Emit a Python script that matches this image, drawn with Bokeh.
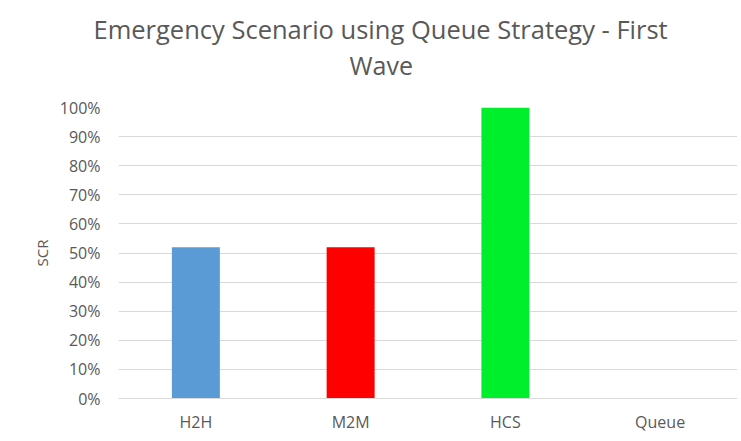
from bokeh.plotting import figure
from bokeh.models import (Title, NumeralTickFormatter, FixedTicker, LinearAxis,
                          Range1d)
from bokeh.embed import file_html
from bokeh.resources import INLINE

categories = ["H2H", "M2M", "HCS", "Queue"]
scr = [0.52, 0.52, 1.00, 0.0]
bar_colors = ["#5B9BD5", "#FF0000", "#00EF2D", "#A5A5A5"]
y_ticks = [0.0, 0.1, 0.2, 0.3, 0.4, 0.5, 0.6, 0.7, 0.8, 0.9, 1.0]
title_lines = ["Emergency Scenario using Queue Strategy - First", "Wave"]
y_label = "SCR"

FONT = "Open Sans"
GRAY = "#595959"

positions = list(range(len(categories)))

p = figure(x_range=Range1d(-0.5, len(categories) - 0.5), y_range=(0, 1),
           width=737, height=435,
           output_backend="svg", toolbar_location=None,
           min_border_left=118, min_border_right=0,
           min_border_top=107, min_border_bottom=33,
           outline_line_color=None)
p.title.visible = False

p.vbar(x=positions, top=scr, width=0.31, color=bar_colors, line_color=None)

p.xgrid.grid_line_color = None
p.ygrid.grid_line_color = "#D9D9D9"
p.ygrid.grid_line_width = 1

p.yaxis.ticker = FixedTicker(ticks=y_ticks)
p.yaxis.formatter = NumeralTickFormatter(format="0%")
p.yaxis.axis_line_color = None
p.yaxis.major_tick_line_color = None
p.yaxis.minor_tick_line_color = None
p.yaxis.major_tick_out = 0
p.yaxis.major_label_standoff = 18
p.yaxis.axis_label = y_label
p.yaxis.axis_label_standoff = 5
p.yaxis.axis_label_text_font = FONT
p.yaxis.axis_label_text_font_size = "15px"
p.yaxis.axis_label_text_font_style = "normal"
p.yaxis.axis_label_text_color = GRAY

p.xaxis.ticker = FixedTicker(ticks=positions)
p.xaxis.major_label_overrides = {i: c for i, c in zip(positions, categories)}
p.xaxis.axis_line_color = "#D9D9D9"
p.xaxis.major_tick_line_color = None
p.xaxis.minor_tick_line_color = None
p.xaxis.major_tick_out = 0
p.xaxis.minor_tick_out = 0
p.xaxis.major_label_standoff = 12

for ax in (p.xaxis, p.yaxis):
    ax.major_label_text_font = FONT
    ax.major_label_text_font_size = "16px"
    ax.major_label_text_color = GRAY

# invisible spacer panel between the frame and the two title lines
spacer = LinearAxis(ticker=FixedTicker(ticks=[positions[0]]),
                    major_label_overrides={positions[0]: ""},
                    major_label_text_font_size="1px",
                    major_tick_out=26, major_tick_in=0, minor_tick_out=0,
                    minor_tick_in=0, major_label_standoff=0,
                    axis_line_color=None, major_tick_line_color=None,
                    minor_tick_line_color=None)
p.add_layout(spacer, "above")

# second line first (nearest the frame), then first line above it
p.add_layout(Title(text=title_lines[1], align="left", offset=231, standoff=0,
                   text_font=FONT, text_font_size="25px",
                   text_font_style="normal", text_color=GRAY), "above")
p.add_layout(Title(text=title_lines[0], align="left", offset=-25, standoff=0,
                   text_font=FONT, text_font_size="25.5px",
                   text_font_style="normal", text_color=GRAY), "above")

open("out.html", "w").write(file_html(p, INLINE))
